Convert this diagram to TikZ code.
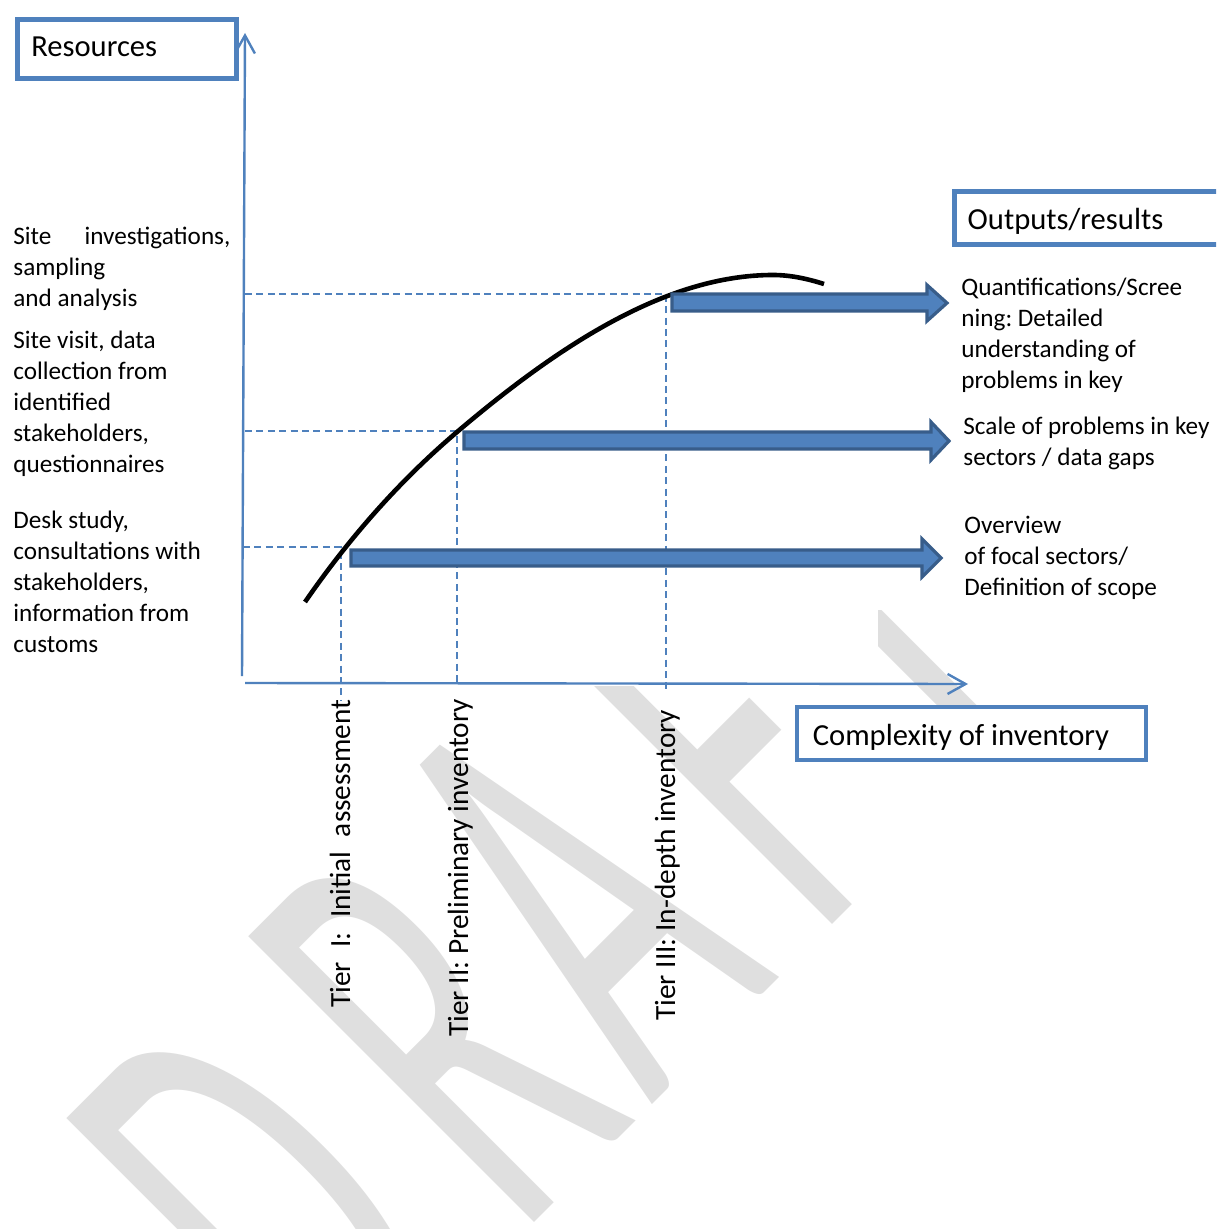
\documentclass[tikz,border=0pt]{standalone}
\usepackage{fontspec}
\setmainfont{Carlito}
\usetikzlibrary{arrows.meta}
\definecolor{axisblue}{RGB}{79,129,189}
\definecolor{arrowedge}{RGB}{56,93,138}
\definecolor{wmgray}{RGB}{223,223,223}
\begin{document}
\frenchspacing
\begin{tikzpicture}[x=0.5pt,y=0.5pt,
  axis/.style={draw=axisblue, line width=1.2pt, -{Straight Barb[length=9pt,width=10pt]}},
  guide/.style={draw=axisblue, line width=0.75pt, dash pattern=on 3.5pt off 2.2pt},
  curveline/.style={draw=black, line width=2.3pt, line cap=butt},
  blockarrow/.style={fill=axisblue, draw=arrowedge, line width=1.6pt, line join=miter},
  labelbox/.style={draw=axisblue, line width=2.3pt, fill=white, inner ysep=0pt, text depth=0pt, align=flush left, font=\fontsize{15.3}{18}\selectfont},
  bodytext/.style={inner sep=0pt, font=\fontsize{12.6}{15.5}\selectfont},
  tierlabel/.style={inner sep=0pt, rotate=90, anchor=base west, font=\fontsize{14.65}{17}\selectfont},
  wmletter/.style={transform shape, xscale=0.5, anchor=base west, inner sep=0pt, text=wmgray, font=\fontsize{315}{315}\selectfont}]
\useasboundingbox (0,0) rectangle (1216,-1229);
\clip (0,0) rectangle (1216,-1229);

% watermark
\begin{scope}[shift={(878.4,-878.4)}, rotate=45]
  \node[wmletter] (wmD) at (-765,0) {D};
  \node[wmletter] (wmR) at (-509,0) {R};
  \node[wmletter] (wmA) at (-321,0) {A};
  \node[wmletter] (wmF) at (-86,0) {F};
  \node[wmletter] (wmT) at (101,0) {T};
\end{scope}
\fill[white] (0,0) rectangle (878,-686);
\fill[white] (878,0) rectangle (1216,-610);

% axes
\coordinate (ybot) at (242,-676);
\coordinate (ytop) at (245,-33);
\coordinate (xleft) at (245,-683);
\coordinate (xright) at (968,-684);
\draw[axis] (ybot) -- (ytop);
\draw[axis] (xleft) -- (xright);

% guide lines
\coordinate (h1) at (243,-547);
\coordinate (k1) at (341,-547);
\coordinate (d1) at (341,-700);
\coordinate (h2) at (245,-431);
\coordinate (k2) at (457,-431);
\coordinate (d2) at (457,-683);
\coordinate (h3) at (245,-294);
\coordinate (k3) at (666,-294);
\coordinate (d3) at (666,-693);
\draw[guide] (h1) -- (k1) -- (d1);
\draw[guide] (h2) -- (k2) -- (d2);
\draw[guide] (h3) -- (k3) -- (d3);

% curve
\coordinate (cs) at (305,-602);
\coordinate (cm) at (457,-432);
\coordinate (cp) at (773,-275);
\coordinate (ce) at (824,-284);
\draw[curveline] (cs) .. controls (355,-529.5) and (407,-474.5) .. (cm)
  .. controls (562,-342.75) and (668,-275) .. (cp)
  .. controls (790,-275) and (807,-278.6) .. (ce);

% block arrows
\filldraw[blockarrow] (672,-294) -- (927,-294) -- (927,-285) -- (947,-303) -- (927,-321) -- (927,-311) -- (672,-311) -- cycle;
\filldraw[blockarrow] (464,-432) -- (931,-432) -- (931,-422) -- (949,-441) -- (931,-460) -- (931,-449) -- (464,-449) -- cycle;
\filldraw[blockarrow] (351,-550) -- (922,-550) -- (922,-539) -- (941,-558) -- (922,-577) -- (922,-566) -- (351,-566) -- cycle;

% boxes
\node[labelbox, anchor=north west, minimum height=29.5pt, inner xsep=7pt, text width=95.5pt, text height=8pt] (res) at (15,-17) {Resources};
\node[labelbox, anchor=north west, minimum height=26.5pt, inner xsep=6.7pt, text width=130.6pt, text height=11.5pt] (outp) at (952,-189) {Outputs/results};
\node[labelbox, anchor=north west, minimum height=26.5pt, inner xsep=8pt, text width=158.5pt, text height=12pt] (cplx) at (794.5,-704.5) {Complexity of inventory};

% left texts
\node[bodytext, anchor=base west] (lt3) at (13,-245) {\parbox[t]{120pt}{\makebox[108.5pt][s]{Site investigations,}\\sampling\\and analysis}};
\node[bodytext, anchor=base west] (lt2) at (13,-349) {\parbox[t]{120pt}{Site visit, data\\collection from\\identified\\stakeholders,\\questionnaires}};
\node[bodytext, anchor=base west] (lt1) at (13,-528) {\parbox[t]{120pt}{Desk study,\\consultations with\\stakeholders,\\information from\\customs}};

% right texts
\node[bodytext, anchor=base west] (rt3) at (961,-296) {\parbox[t]{140pt}{Quantifications/Scree\\ning: Detailed\\understanding of\\problems in key}};
\node[bodytext, anchor=base west] (rt2) at (963,-434) {\parbox[t]{140pt}{Scale of problems in key\\sectors / data gaps}};
\node[bodytext, anchor=base west] (rt1) at (964,-533) {\parbox[t]{140pt}{Overview\\of focal sectors/\\Definition of scope}};

% tier labels
\node[tierlabel] (t1) at (350,-1008) {\makebox[154pt][s]{Tier I: Initial assessment}};
\node[tierlabel] (t2) at (468,-1037) {Tier II: Preliminary inventory};
\node[tierlabel] (t3) at (675,-1021) {Tier III: In-depth inventory};
\end{tikzpicture}
\end{document}
